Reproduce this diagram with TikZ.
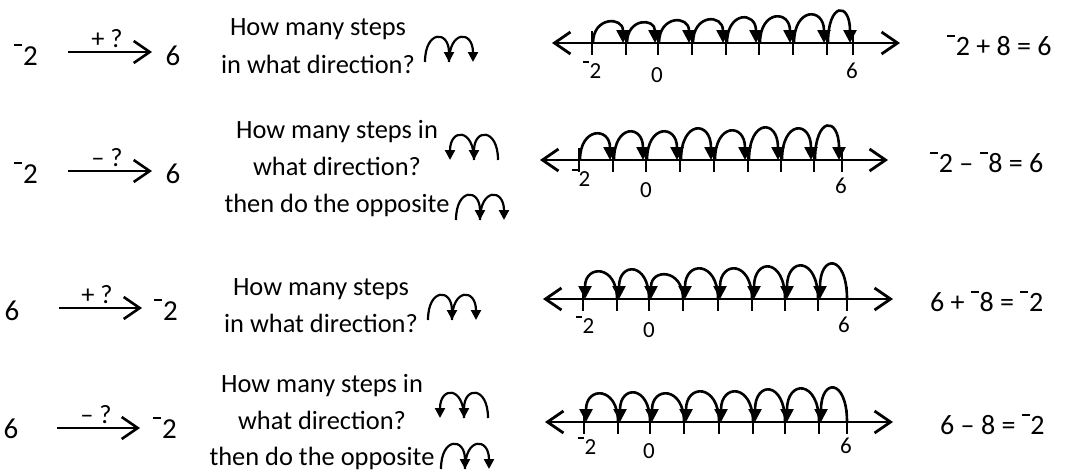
\documentclass[tikz,border=0pt]{standalone}
\usepackage{fontspec}
\setmainfont{Carlito}
\usetikzlibrary{arrows.meta}
% raised negative sign in front of a number
\newcommand\negsign{\rule[.66em]{.28em}{.07em}\kern.03em}
\tikzset{
  txt/.style={inner sep=0pt, anchor=base, font=\fontsize{26.4}{30}\selectfont},
  num/.style={inner sep=0pt, anchor=base, font=\fontsize{29}{30}\selectfont},
  eqn/.style={inner sep=0pt, anchor=base west, font=\fontsize{28}{30}\selectfont},
  lab/.style={inner sep=0pt, anchor=base, font=\fontsize{23}{25}\selectfont},
  opline/.style={line width=2.6pt, -{Straight Barb[length=16pt,width=22pt]}},
  axisline/.style={line width=2.8pt,
    {Straight Barb[length=16pt,width=22pt]}-{Straight Barb[length=16pt,width=22pt]}},
  tickmark/.style={line width=2.8pt},
  hop/.style={line width=2.6pt, -{Triangle[length=13pt,width=13pt]}},
  minihop/.style={line width=2.2pt, -{Triangle[length=10pt,width=10pt]}},
  pics/hopsR/.style={code={
    \draw[minihop] (0,0) .. controls (0,-32) and (24,-32) .. (24,0);
    \draw[minihop] (24,0) .. controls (24,-32) and (48,-32) .. (48,0);
  }},
  pics/hopsL/.style={code={
    \draw[minihop] (48,0) .. controls (48,-32) and (24,-32) .. (24,0);
    \draw[minihop] (24,0) .. controls (24,-32) and (0,-32) .. (0,0);
  }},
}
\begin{document}
\begin{tikzpicture}[x=1pt,y=-1pt]
\useasboundingbox (0,0) rectangle (1065,471);

% ---------- row 1 : -2 + ? = 6 ----------
\node[num] (a1) at (26,65) {\negsign 2};
\node[num] (b1) at (173,65) {6};
\coordinate (s1) at (68,52);
\coordinate (e1) at (152,52);
\draw[opline] (s1) -- (e1);
\node[txt] (o1) at (107,47) {+ ?};
\node[txt] (q1a) at (318,35) {How many steps};
\node[txt] (q1b) at (318,73) {in what direction?};
\pic at (425,62) {hopsR};
\coordinate (L1) at (552,43);
\coordinate (R1) at (900,43);
\draw[axisline] (L1) -- (R1);
\foreach \t in {592,626,658,692,726,759,793,827,853}
  \draw[tickmark] (\t,31) -- (\t,55);
\foreach \a/\b/\h in {592/626/20,626/658/19,658/692/21,692/726/22,726/759/24,759/793/25,793/827/27,827/853/31}
  \draw[hop] (\a+1,43) .. controls (\a+1,43-1.33*\h) and (\b-3,43-1.33*\h) .. (\b-3,43);
\node[lab] (n1a) at (592,78) {\negsign 2};
\node[lab] (n1b) at (657,82) {0};
\node[lab] (n1c) at (852,78) {6};
\node[eqn] (eq1) at (947,55) {\negsign 2 + 8 = 6};

% ---------- row 2 : -2 - ? = 6 ----------
\node[num] (a2) at (26,183) {\negsign 2};
\node[num] (b2) at (173,183) {6};
\coordinate (s2) at (68,171);
\coordinate (e2) at (152,171);
\draw[opline] (s2) -- (e2);
\node[txt] (o2) at (107,166) {– ?};
\node[txt] (q2a) at (337,138) {How many steps in};
\node[txt] (q2b) at (337,175) {what direction?};
\node[txt] (q2c) at (337,212) {then do the opposite};
\pic at (450,160) {hopsL};
\pic at (456,220) {hopsR};
\coordinate (L2) at (540,160);
\coordinate (R2) at (888,160);
\draw[axisline] (L2) -- (R2);
\foreach \t in {579,613,646,680,714,748,781,814,842}
  \draw[tickmark] (\t,148) -- (\t,172);
\foreach \a/\b/\h in {579/613/25,613/646/27,646/680/27,680/714/30,714/748/28,748/781/31,781/814/30,814/842/33}
  \draw[hop] (\a+1,160) .. controls (\a+1,160-1.33*\h) and (\b-3,160-1.33*\h) .. (\b-3,160);
\node[lab] (n2a) at (581,186) {\negsign 2};
\node[lab] (n2b) at (646,197) {0};
\node[lab] (n2c) at (841,193) {6};
\node[eqn] (eq2) at (930,172) {\negsign 2 – \negsign 8 = 6};

% ---------- row 3 : 6 + ? = -2 ----------
\node[num] (a3) at (12,320) {6};
\node[num] (b3) at (166,320) {\negsign 2};
\coordinate (s3) at (59,308);
\coordinate (e3) at (142,308);
\draw[opline] (s3) -- (e3);
\node[txt] (o3) at (97,303) {+ ?};
\node[txt] (q3a) at (321,295) {How many steps};
\node[txt] (q3b) at (321,332) {in what direction?};
\pic at (428,320) {hopsR};
\coordinate (L3) at (543,299);
\coordinate (R3) at (893,299);
\draw[axisline] (L3) -- (R3);
\foreach \t in {583,617,649,683,718,752,785,818,847}
  \draw[tickmark] (\t,287) -- (\t,311);
\foreach \a/\b/\h in {583/617/26,617/649/28,649/683/23,683/718/29,718/752/29,752/785/31,785/818/32,818/847/34}
  \draw[hop] (\b,299) .. controls (\b,299-1.33*\h) and (\a+2,299-1.33*\h) .. (\a+2,299);
\node[lab] (n3a) at (585,333) {\negsign 2};
\node[lab] (n3b) at (649,337) {0};
\node[lab] (n3c) at (844,332) {6};
\node[eqn] (eq3) at (930,311) {6 + \negsign 8 = \negsign 2};

% ---------- row 4 : 6 - ? = -2 ----------
\node[num] (a4) at (11,438) {6};
\node[num] (b4) at (165,438) {\negsign 2};
\coordinate (s4) at (57,428);
\coordinate (e4) at (140,428);
\draw[opline] (s4) -- (e4);
\node[txt] (o4) at (96,423) {– ?};
\node[txt] (q4a) at (322,392) {How many steps in};
\node[txt] (q4b) at (322,429) {what direction?};
\node[txt] (q4c) at (322,465) {then do the opposite};
\pic at (440,418) {hopsL};
\pic at (441,469) {hopsR};
\coordinate (L4) at (545,422);
\coordinate (R4) at (893,422);
\draw[axisline] (L4) -- (R4);
\foreach \t in {584,618,650,684,719,753,785,819,847}
  \draw[tickmark] (\t,410) -- (\t,434);
\foreach \a/\b/\h in {584/618/27,618/650/28,650/684/27,684/719/29,719/753/29,753/785/31,785/819/32,819/847/33}
  \draw[hop] (\b,422) .. controls (\b,422-1.33*\h) and (\a+2,422-1.33*\h) .. (\a+2,422);
\node[lab] (n4a) at (587,454) {\negsign 2};
\node[lab] (n4b) at (649,458) {0};
\node[lab] (n4c) at (846,453) {6};
\node[eqn] (eq4) at (940,434) {6 – 8 = \negsign 2};
\end{tikzpicture}
\end{document}
